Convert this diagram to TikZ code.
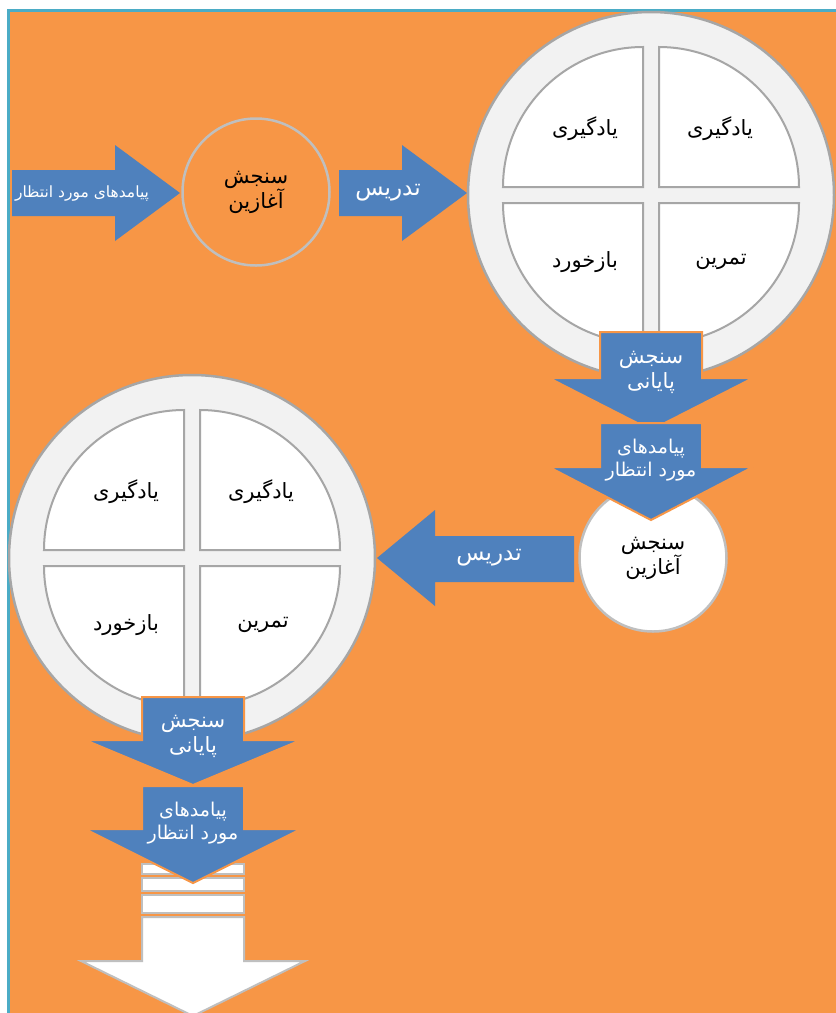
\documentclass[tikz,border=0pt]{standalone}
\usepackage{fontspec}
\newfontfamily\farsifont[Script=Arabic]{DejaVu Sans}
\TeXXeTstate=1
\usetikzlibrary{positioning}
\definecolor{bgorange}{HTML}{F79646}
\definecolor{framecyan}{HTML}{4BACC6}
\definecolor{arrowblue}{HTML}{4F81BD}
\definecolor{ringfill}{HTML}{F2F2F2}
\definecolor{ringgray}{HTML}{A6A6A6}
\definecolor{softgray}{HTML}{BFBFBF}

\begin{document}
\begin{tikzpicture}[x=1pt, y=-1pt,
    txt/.style={font={\farsifont\fontsize{21}{25}\selectfont}, align=center, inner sep=0pt},
    wtxt/.style={txt, text=white},
    goaltxt/.style={wtxt, font={\farsifont\fontsize{19}{23}\selectfont}},
    blockarr/.style={fill=arrowblue},
    downarr/.style={fill=arrowblue, draw=bgorange, line width=2pt},
    ring/.style={circle, draw=ringgray, fill=ringfill, line width=2.5pt, minimum size=366pt, inner sep=0pt},
    quad/.style={draw=ringgray, fill=white, line width=2pt},
    entrycirc/.style={circle, draw=softgray, line width=2.5pt, minimum size=147pt, inner sep=0pt},
    stripe/.style={draw=softgray, fill=white, line width=2pt}]

% page and frame
\useasboundingbox (0,0) rectangle (836,1013);
\clip (0,0) rectangle (836,1013);
\fill[white] (0,0) rectangle (836,1013);
\fill[bgorange] (8,10) rectangle (840,1020);
\draw[framecyan, line width=3pt] (8,1020) -- (8,10) -- (840,10);

% expected outcomes arrow (entry)
\fill[blockarr] (12,170) -- (115,170) -- (115,145) -- (180,193) -- (115,241) -- (115,216) -- (12,216) -- cycle;
\node[goaltxt, font={\farsifont\fontsize{15.5}{20}\selectfont}] (goals1) at (82,193) {\beginR پیامدهای مورد انتظار\endR};

% pre-assessment 1
\node[entrycirc, txt, fill=bgorange] (pre1) at (256,192) {\beginR سنجش\endR\\\beginR آغازین\endR};

% teaching arrow 1
\fill[blockarr] (339,170) -- (402,170) -- (402,145) -- (467,193) -- (402,241) -- (402,216) -- (339,216) -- cycle;
\node[wtxt, font={\farsifont\fontsize{23}{25}\selectfont}] (teach1) at (388,193) {\beginR تدریس\endR};

% cycle 1
\node[ring] (pie1) at (651,195) {};
\begin{scope}[shift={(pie1.center)}]
  \draw[quad] (-8,-8) -- (-148,-8) arc[start angle=180, end angle=90, radius=140pt] -- cycle;
  \draw[quad] (8,-8) -- (8,-148) arc[start angle=90, end angle=0, radius=140pt] -- cycle;
  \draw[quad] (8,8) -- (148,8) arc[start angle=0, end angle=-90, radius=140pt] -- cycle;
  \draw[quad] (-8,8) -- (-8,148) arc[start angle=270, end angle=180, radius=140pt] -- cycle;
  \node[txt] (learn1a) at (-66,-66) {\beginR یادگیری\endR};
  \node[txt] (learn1b) at (69,-66) {\beginR یادگیری\endR};
  \node[txt] (feedback1) at (-66,67) {\beginR بازخورد\endR};
  \node[txt] (practice1) at (70,67) {\beginR تمرین\endR};
\end{scope}

% post-assessment 1
\draw[downarr] (600,332) -- (702,332) -- (702,378) -- (753,378) -- (651,430) -- (549,378) -- (600,378) -- cycle;
\node[wtxt] (post1) at (651,372) {\beginR سنجش\endR\\\beginR پایانی\endR};

% pre-assessment 2
\node[entrycirc, txt, fill=white] (pre2) at (653,558) {\beginR سنجش\endR\\\beginR آغازین\endR};

% expected outcomes 2
\draw[downarr] (600,423) -- (702,423) -- (702,467) -- (753,467) -- (651,520) -- (549,467) -- (600,467) -- cycle;
\node[goaltxt] (goals2) at (651,460) {\beginR پیامدهای\endR\\\beginR مورد انتظار\endR};

% cycle 2
\node[ring] (pie2) at (192,558) {};
\begin{scope}[shift={(pie2.center)}]
  \draw[quad] (-8,-8) -- (-148,-8) arc[start angle=180, end angle=90, radius=140pt] -- cycle;
  \draw[quad] (8,-8) -- (8,-148) arc[start angle=90, end angle=0, radius=140pt] -- cycle;
  \draw[quad] (8,8) -- (148,8) arc[start angle=0, end angle=-90, radius=140pt] -- cycle;
  \draw[quad] (-8,8) -- (-8,148) arc[start angle=270, end angle=180, radius=140pt] -- cycle;
  \node[txt] (learn2a) at (-66,-66) {\beginR یادگیری\endR};
  \node[txt] (learn2b) at (69,-66) {\beginR یادگیری\endR};
  \node[txt] (feedback2) at (-66,67) {\beginR بازخورد\endR};
  \node[txt] (practice2) at (71,67) {\beginR تمرین\endR};
\end{scope}

% teaching arrow 2 (pointing left)
\fill[blockarr] (574,536) -- (435,536) -- (435,510) -- (377,558) -- (435,606) -- (435,582) -- (574,582) -- cycle;
\node[wtxt, font={\farsifont\fontsize{23}{25}\selectfont}] (teach2) at (489,558) {\beginR تدریس\endR};

% post-assessment 2
\draw[downarr] (142,697) -- (244,697) -- (244,740) -- (301,740) -- (193,785) -- (85,740) -- (142,740) -- cycle;
\node[wtxt] (post2) at (193,736) {\beginR سنجش\endR\\\beginR پایانی\endR};

% stripes and open arrow
\draw[stripe] (142,864) rectangle (244,874);
\draw[stripe] (142,878) rectangle (244,891);
\draw[stripe] (142,895) rectangle (244,913);
\draw[stripe] (142,917) -- (244,917) -- (244,961) -- (305,961) -- (193,1016) -- (81,961) -- (142,961) -- cycle;

% expected outcomes 3
\draw[downarr] (142,786) -- (244,786) -- (244,829) -- (301,829) -- (193,883) -- (85,829) -- (142,829) -- cycle;
\node[goaltxt] (goals3) at (193,823) {\beginR پیامدهای\endR\\\beginR مورد انتظار\endR};

\end{tikzpicture}
\end{document}
